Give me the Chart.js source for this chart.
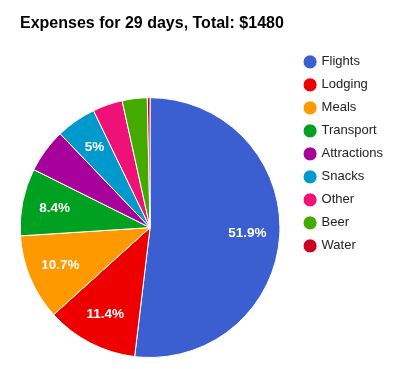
<!doctype html>
<html>
<head>
	<meta charset="utf-8">
	<title>Expenses pie</title>
	<script src="https://cdn.jsdelivr.net/npm/chart.js@4/dist/chart.umd.min.js"></script>
	<style>
		html, body {margin:0; padding:0; background:#fff}
		#wrap {width:418px; height:369px}
	</style>
</head>
<body>
	<div id="wrap"><canvas id="canvas" width="418" height="369"></canvas></div>
	<script>
		// data (dollars, total 1480)
		var categories = ['Flights', 'Lodging', 'Meals', 'Transport', 'Attractions', 'Snacks', 'Other', 'Beer', 'Water'];
		var amounts = [768, 169, 158, 124, 81, 74, 55, 46, 5];
		var colors = ['#3b5fd0', '#ee0000', '#ff9900', '#00a020', '#a8009a', '#0099cc', '#ee1177', '#44aa00', '#cc0022'];
		var showPct = [true, true, true, true, false, true, false, false, false]; // labels that fit inside the slice

		var total = amounts.reduce(function (a, b) { return a + b; }, 0);

		// draws the percentage text inside each slice
		var sliceText = {
			id: 'sliceText',
			afterLayout: function (chart) {
				// title sits a bit right of the pie's left edge
				if (chart.titleBlock) chart.titleBlock.left = 20;
			},
			afterDatasetsDraw: function (chart) {
				var ctx = chart.ctx;
				var arcs = chart.getDatasetMeta(0).data;
				ctx.save();
				ctx.fillStyle = '#fff';
				ctx.font = 'bold 13.5px Arial, "Liberation Sans", sans-serif';
				ctx.textAlign = 'center';
				ctx.textBaseline = 'middle';
				arcs.forEach(function (arc, i) {
					if (!showPct[i]) return;
					var p = arc.getProps(['x', 'y', 'startAngle', 'endAngle', 'outerRadius']);
					var mid = (p.startAngle + p.endAngle) / 2;
					var r = p.outerRadius * 0.75;
					var pct = Math.round(amounts[i] / total * 1000) / 10;
					ctx.fillText(pct + '%', p.x + Math.cos(mid) * r, p.y + Math.sin(mid) * r);
				});
				ctx.restore();
			}
		};

		new Chart(document.getElementById('canvas'), {
			type: 'pie',
			data: {
				labels: categories,
				datasets: [{
					data: amounts,
					backgroundColor: colors,
					borderColor: '#fff',
					borderWidth: 1
				}]
			},
			options: {
				responsive: false,
				animation: false,
				layout: {padding: {left: 5, right: 25, top: 0, bottom: 11}},
				plugins: {
					title: {
						display: true,
						text: 'Expenses for 29 days, Total: $' + total,
						align: 'start',
						color: '#000',
						font: {family: 'Arial, "Liberation Sans", sans-serif', size: 16, weight: 'bold'},
						padding: {top: 14, bottom: 64}
					},
					legend: {
						position: 'right',
						align: 'start',
						fullSize: true,
						title: {display: true, text: '', padding: {top: 31, bottom: 0}, font: {size: 12}},
						labels: {
							usePointStyle: true,
							pointStyle: 'circle',
							boxWidth: 10,
							boxHeight: 10,
							padding: 10,
							color: '#222',
							font: {family: 'Arial, "Liberation Sans", sans-serif', size: 13}
						}
					},
					tooltip: {enabled: false}
				}
			},
			plugins: [sliceText]
		});
	</script>
</body>
</html>
